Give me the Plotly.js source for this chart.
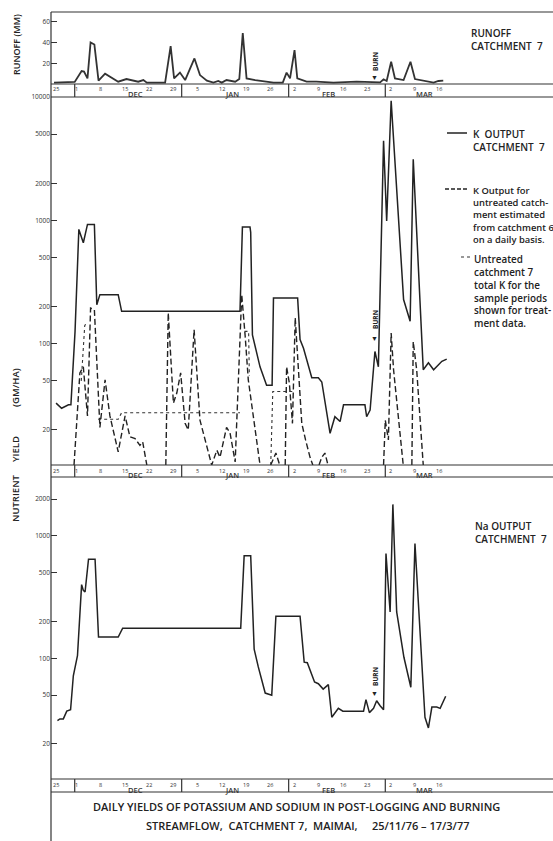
<!DOCTYPE html>
<html>
<head>
<meta charset="utf-8">
<script src="https://cdn.plot.ly/plotly-3.0.1.min.js"></script>
<style>html,body{margin:0;padding:0;background:#fff;}#chart{width:553px;height:841px;}</style>
</head>
<body>
<div id="chart"></div>
<script>
// x values: days since 25 Nov 1976
const runoffDays = [0,5,6,8,8.7,9.7,10.6,11.7,12.9,14.8,16.2,18.6,21,24.4,25.9,26.9,32.2,33.8,34.8,36.5,38,40.7,42.3,44.3,46.2,47.6,48.6,50,52.5,53.7,54.7,55.8,58.3,61.6,63.6,66.3,67.4,68.4,69.7,70.5,73.2,76,81,87.7,91.6,94.5,95.5,96.4,97.7,98.8,101.3,103.3,104.6,107.5,110,111.4,112.8];
const runoffMM   = [1.3,1.3,2,12.5,12,5.4,40,38,3.2,10,7,2.2,4.8,2.2,3.8,1.3,1.3,36.5,5.4,11,3.8,24.6,8.6,3.2,1.3,2.9,1.3,3.8,2.2,4.8,49,5.4,3.8,2.2,1.3,1.3,11,5.4,32.6,5.4,2.2,2.2,1.3,2.2,1.6,1.6,4.5,2.9,21.4,5.4,3.8,21.4,4.8,3.2,1.3,2.9,3.2];

const kDays   = [0.6,2.2,4.2,4.9,6.1,7.2,8.5,9.7,11.7,12.4,13.3,18.6,19.6,53.9,54.6,56.8,57.0,57.5,59.7,61.6,63.2,63.6,70.6,71.3,72.3,74.7,76.6,77.6,80,81.4,82.9,83.9,90.1,90.6,91.6,93,94,95.5,96.4,97.7,101.3,103.2,104.1,107,108.5,110,112.4,113.8];
const kValues = [33,30,32,32,126,845,659,927,927,207,250,250,183,183,883,883,800,118,65,46,46,235,235,108,92,53,53,49,18.8,25.6,23.4,32,32,25.6,29,86.5,65,4415,987,9330,228,152,3130,61.5,70,61.5,72,75];

// estimated untreated K (catchment 6 basis); 10.4 = reaches the bottom of the scale
const kEstDays   = [5.8,7.5,8.5,9.7,10.6,11.7,13.3,14.8,16.2,18.6,20.6,22,23.5,24.9,25.7,26.9,null,32.4,33.1,34.6,35.6,36.7,38,38.9,40.6,42.3,45.7,47.2,48.1,50,51,52.5,54.4,55.4,56.3,59.7,null,62.8,64.3,65.4,null,67,67.4,68.2,69.1,69.9,70.4,71.8,72.9,74.2,75,null,76.8,77.6,78.5,79.4,null,95.5,96,96.9,97.7,98.4,101.2,null,103.7,104.1,105.1,107];
const kEstValues = [10.4,58,65,26,195,189,21,51,26,13.3,26,17.6,17,15,16,10.4,null,10.4,178,33,40,58,22.6,20,130,24,10.4,13.7,12,21,19,11,250,115,51,10.4,null,10.4,13,10.4,null,10.4,65,48,22.6,162,100,22.6,16.6,12,10.4,null,10.4,12,13,10.4,null,10.4,24,16.6,122,61.5,10.4,null,10.4,104,61.5,10.4];

// untreated catchment 7 total K for sample periods
const kTotalDays   = [7.9,8.9,9.5,null,12.8,13.3,18.6,19.6,53.9,null,55.2,56.4,56.6,null,62.8,63.4,69.6];
const kTotalValues = [50,140,150,null,24.4,24.4,24.4,27.6,27.6,null,126,126,55,null,10.4,41,41];

const naDays   = [1,1.7,2.7,3.7,4.8,5.6,6.8,8.0,8.5,9.0,10.0,11.9,12.9,18.6,19.9,54.1,55.1,57.0,58,59.2,61.2,63.1,64.3,71.3,72.5,73.4,75.5,76.6,78,79.5,80.5,82.4,83.7,89.7,90.4,91.4,92.6,93.5,94.5,95.5,96.2,97.4,98.2,99.3,101.4,103.4,104.6,106.1,107.5,108.5,109.5,110.9,111.9,113.5];
const naValues = [31,32,32,37,38,72,105,400,359,348,644,644,149,149,176,176,687,687,119,85,52,50,221,221,93,92,64,62,56,61,33,39,37,37,46,36,39,45,41,38,718,239,1808,239,102,58,866,149,33,27,40,40,39,49];

const stripDays   = [0,6,13,20,27,34,41,48,55,62,69,76,83,90,97,104,111];
const stripLabels = ['25','1','8','15','22','29','5','12','19','26','2','9','16','23','2','9','16'];
const monthStartDays = [6,37,68,96];
const monthLabelDays = [23.5,51.5,79.5,107.5];
const monthNames = ['DEC','JAN','FEB','MAR'];
const burnDay = 93;

const runoffTicks = [20,40,60];
const kTicks  = [20,50,100,200,500,1000,2000,5000,10000];
const naTicks = [20,50,100,200,500,1000,2000];

const W = 553, H = 841;
const X = v => v / W;
const Y = v => 1 - v / H;
const INK = '#222';
const FONT = '"Open Sans", Lato, sans-serif';

const traces = [
  {x: runoffDays, y: runoffMM, xaxis:'x', yaxis:'y', mode:'lines', line:{color:'#333', width:1.8}, hoverinfo:'skip'},
  {x: kDays, y: kValues, xaxis:'x', yaxis:'y2', mode:'lines', line:{color:INK, width:1.5}, hoverinfo:'skip'},
  {x: kEstDays, y: kEstValues, xaxis:'x', yaxis:'y2', mode:'lines', line:{color:INK, width:1.4, dash:'6px,3px'}, connectgaps:false, hoverinfo:'skip'},
  {x: kTotalDays, y: kTotalValues, xaxis:'x', yaxis:'y2', mode:'lines', line:{color:'#333', width:1.1, dash:'dot'}, connectgaps:false, hoverinfo:'skip'},
  {x: naDays, y: naValues, xaxis:'x', yaxis:'y3', mode:'lines', line:{color:INK, width:1.5}, hoverinfo:'skip'}
];

const yCommon = {showgrid:false, zeroline:false, showline:false, ticks:'inside', ticklen:6, tickwidth:1, tickcolor:'#333', tickfont:{size:6.5, color:'#333', family:FONT}, fixedrange:true};

const shapes = [];
const line = (x0,y0,x1,y1,extra) => Object.assign({type:'line', xref:'paper', yref:'paper', x0:X(x0), y0:Y(y0), x1:X(x1), y1:Y(y1), line:{color:'#333', width:1.2}}, extra||{});
shapes.push(line(51,12,553,12));
shapes.push(line(51,12,51,841));
const strips = [[84,97],[465,477],[779,792]];
strips.forEach(([t,b]) => {
  shapes.push(line(51,t,553,t));
  shapes.push(line(51,b,553,b));
  monthStartDays.forEach(d => shapes.push({type:'line', xref:'x', yref:'paper', x0:d, x1:d, y0:Y(b), y1:Y(t), line:{color:'#333', width:1.2}}));
});
// legend samples
shapes.push(line(447,133,467,133,{line:{color:INK,width:1.5}}));
shapes.push(line(445,189,468,189,{line:{color:INK,width:1.4,dash:'4px,2px'}}));
shapes.push(line(461,257,470,257,{line:{color:'#333',width:1.1,dash:'dot'}}));

const ann = [];
strips.forEach(([t,b]) => {
  stripDays.forEach((d,i) => ann.push({xref:'x', yref:'paper', x:d+0.6, y:Y(t+5.5), text:stripLabels[i], showarrow:false, font:{size:5.5, color:'#333', family:FONT}, xanchor:'center', yanchor:'middle'}));
  monthLabelDays.forEach((d,i) => ann.push({xref:'x', yref:'paper', x:d, y:Y(b-2.5), text:monthNames[i], showarrow:false, font:{size:7.5, color:'#333', family:FONT, weight:600}, xanchor:'center', yanchor:'middle'}));
});
const txt = (x,y,text,size,extra) => Object.assign({xref:'paper', yref:'paper', x:X(x), y:Y(y), text:text, showarrow:false, font:{size:size, color:INK, family:FONT, weight:600}, xanchor:'left', yanchor:'middle', align:'left'}, extra||{});
// axis titles
ann.push(txt(16,45,'RUNOFF\u00A0(MM)',9,{textangle:-90, xanchor:'center'}));
ann.push(txt(15,498,'NUTRIENT',9.5,{textangle:-90, xanchor:'center'}));
ann.push(txt(15,449,'YIELD',9.5,{textangle:-90, xanchor:'center'}));
ann.push(txt(15,388,'(GM/HA)',9.5,{textangle:-90, xanchor:'center'}));
// legends
ann.push(txt(469,39,'RUNOFF<br>CATCHMENT\u00A0\u00A07',10));
ann.push(txt(471,140,'K\u00A0\u00A0OUTPUT<br>CATCHMENT\u00A0\u00A07',10));
ann.push(txt(471,214.5,'K Output for<br>untreated catch-<br>ment estimated<br>from catchment 6<br>on a daily basis.',9.4));
ann.push(txt(472,291,'Untreated<br>catchment 7<br>total K for the<br>sample periods<br>shown for treat-<br>ment data.',9.9));
ann.push(txt(473,532,'Na OUTPUT<br>CATCHMENT\u00A0\u00A07',10));
// burn markers
[[61,78],[319,338],[676,693]].forEach(([ty,ay]) => {
  ann.push({xref:'x', yref:'paper', x:burnDay, y:Y(ty), text:'BURN', textangle:-90, showarrow:false, font:{size:6.5, color:INK, family:FONT, weight:700}, xanchor:'center', yanchor:'middle'});
  ann.push({xref:'x', yref:'paper', x:burnDay, y:Y(ay), text:'▼', showarrow:false, font:{size:7, color:INK, family:FONT}, xanchor:'center', yanchor:'middle'});
});
// caption
ann.push(txt(296,806,'DAILY YIELDS OF POTASSIUM AND SODIUM IN POST-LOGGING AND BURNING',11,{xanchor:'center'}));
ann.push(txt(307,825,'STREAMFLOW,\u00A0 CATCHMENT 7,\u00A0 MAIMAI,\u00A0\u00A0\u00A0\u00A0 25/11/76 – 17/3/77',11,{xanchor:'center'}));

const layout = {
  width: W, height: H,
  margin: {l:0, r:0, t:0, b:0},
  paper_bgcolor: '#fff', plot_bgcolor: 'rgba(0,0,0,0)',
  showlegend: false,
  font: {family: FONT, color: INK},
  xaxis: {domain:[X(51),1], range:[-0.87,144.6], visible:false, fixedrange:true},
  yaxis: Object.assign({}, yCommon, {domain:[Y(84),Y(12)], range:[0,69.4], tickvals:runoffTicks, ticktext:runoffTicks.map(String), anchor:'x'}),
  yaxis2: Object.assign({}, yCommon, {domain:[Y(465),Y(97)], type:'log', range:[Math.log10(10.4),4], tickvals:kTicks, ticktext:kTicks.map(String), anchor:'x'}),
  yaxis3: Object.assign({}, yCommon, {domain:[Y(779),Y(477)], type:'log', range:[1.014,3.481], tickvals:naTicks, ticktext:naTicks.map(String), anchor:'x'}),
  shapes: shapes,
  annotations: ann
};

Plotly.newPlot('chart', traces, layout, {staticPlot:true, displayModeBar:false});
</script>
</body>
</html>
